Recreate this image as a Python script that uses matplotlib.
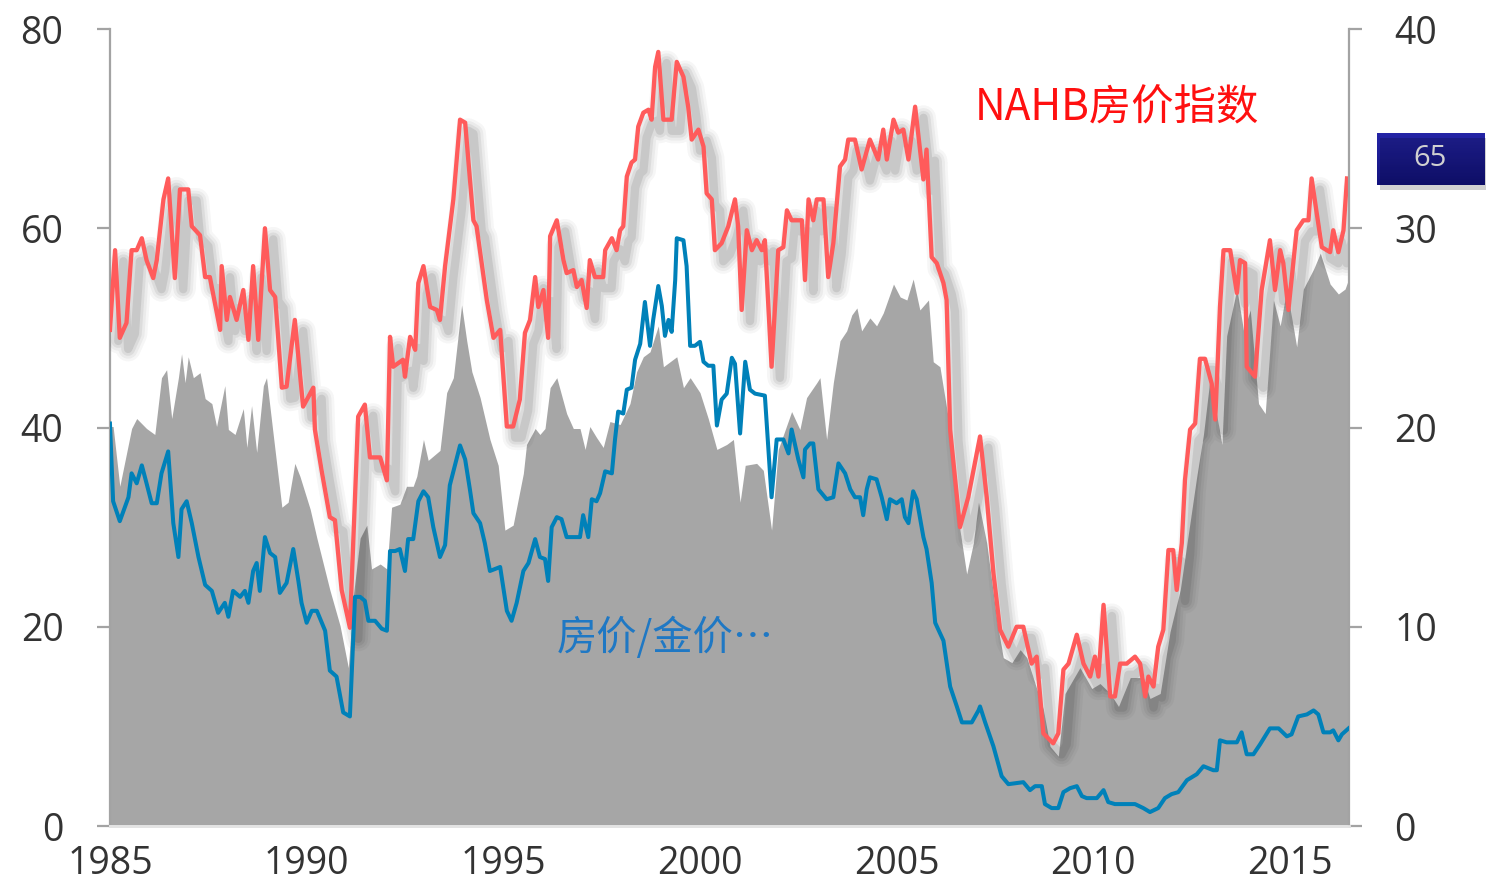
import matplotlib
matplotlib.use("Agg")
import matplotlib.pyplot as plt
import matplotlib.patheffects as pe
from matplotlib.patches import Rectangle
from matplotlib.colors import LinearSegmentedColormap
import numpy as np

# NAHB 房价指数 (左轴)
nahb_year = [
    1985.00, 1985.13, 1985.25, 1985.42, 1985.55, 1985.68, 1985.81, 1985.93, 1986.10, 1986.19,
    1986.36, 1986.48, 1986.65, 1986.78, 1986.99, 1987.08, 1987.29, 1987.42, 1987.54, 1987.80,
    1987.84, 1987.97, 1988.05, 1988.22, 1988.39, 1988.52, 1988.64, 1988.77, 1988.94, 1989.07,
    1989.20, 1989.37, 1989.49, 1989.70, 1989.91, 1990.17, 1990.21, 1990.38, 1990.59, 1990.72,
    1990.89, 1991.10, 1991.31, 1991.48, 1991.61, 1991.87, 1992.04, 1992.12, 1992.20, 1992.45,
    1992.50, 1992.63, 1992.76, 1992.84, 1992.97, 1993.14, 1993.31, 1993.39, 1993.52, 1993.73,
    1993.90, 1994.03, 1994.24, 1994.32, 1994.58, 1994.75, 1994.92, 1995.09, 1995.25, 1995.42,
    1995.55, 1995.68, 1995.81, 1995.89, 1996.02, 1996.14, 1996.19, 1996.36, 1996.53, 1996.61,
    1996.78, 1996.87, 1996.99, 1997.12, 1997.20, 1997.33, 1997.54, 1997.59, 1997.76, 1997.88,
    1997.97, 1998.05, 1998.14, 1998.26, 1998.35, 1998.43, 1998.56, 1998.69, 1998.77, 1998.86,
    1998.94, 1999.07, 1999.28, 1999.41, 1999.58, 1999.70, 1999.79, 1999.96, 2000.09, 2000.17,
    2000.30, 2000.38, 2000.55, 2000.72, 2000.89, 2000.97, 2001.06, 2001.19, 2001.32, 2001.44,
    2001.57, 2001.65, 2001.82, 2001.99, 2002.12, 2002.21, 2002.33, 2002.59, 2002.67, 2002.76,
    2002.88, 2002.97, 2003.14, 2003.26, 2003.39, 2003.56, 2003.69, 2003.77, 2003.94, 2004.11,
    2004.32, 2004.53, 2004.66, 2004.75, 2004.92, 2005.04, 2005.17, 2005.30, 2005.47, 2005.68,
    2005.76, 2005.89, 2006.02, 2006.19, 2006.27, 2006.36, 2006.61, 2006.82, 2007.12, 2007.29,
    2007.46, 2007.63, 2007.84, 2008.05, 2008.22, 2008.43, 2008.56, 2008.73, 2008.98, 2009.11,
    2009.24, 2009.37, 2009.58, 2009.75, 2009.92, 2010.04, 2010.13, 2010.26, 2010.43, 2010.55,
    2010.68, 2010.85, 2011.06, 2011.19, 2011.32, 2011.40, 2011.53, 2011.65, 2011.78, 2011.91,
    2012.03, 2012.12, 2012.25, 2012.33, 2012.46, 2012.59, 2012.71, 2012.84, 2013.01, 2013.10,
    2013.22, 2013.31, 2013.48, 2013.65, 2013.73, 2013.86, 2013.90, 2014.11, 2014.28, 2014.49,
    2014.62, 2014.75, 2014.83, 2014.96, 2015.17, 2015.34, 2015.47, 2015.55, 2015.68, 2015.81,
    2016.02, 2016.10, 2016.23, 2016.36, 2016.45,
]
nahb_val = [
    49.8, 57.8, 49.0, 50.5, 57.8, 57.8, 59.0, 56.8, 55.0, 56.8,
    62.9, 65.0, 55.0, 63.9, 63.9, 60.2, 59.3, 55.1, 55.1, 49.8,
    56.2, 50.8, 53.1, 50.8, 53.8, 48.8, 56.2, 48.8, 60.0, 53.8,
    53.1, 44.0, 44.1, 50.8, 42.1, 44.0, 39.8, 35.7, 31.0, 30.7,
    23.7, 19.9, 41.1, 42.3, 37.0, 37.0, 34.7, 49.1, 46.1, 46.8,
    45.1, 49.1, 47.8, 54.5, 56.2, 52.1, 51.8, 50.8, 56.2, 62.9,
    70.9, 70.6, 60.8, 60.2, 52.8, 49.0, 49.8, 40.1, 40.1, 42.8,
    49.5, 50.8, 55.1, 52.1, 53.8, 49.0, 59.2, 60.8, 56.8, 55.5,
    55.8, 54.1, 54.8, 52.0, 56.8, 55.1, 55.1, 57.8, 59.0, 57.8,
    59.8, 60.2, 65.2, 66.6, 66.9, 70.2, 71.6, 71.9, 70.9, 76.2,
    77.7, 70.9, 70.9, 76.7, 75.2, 72.2, 68.9, 69.9, 68.2, 63.5,
    62.9, 57.8, 58.5, 60.2, 62.9, 60.2, 51.8, 59.8, 57.8, 58.8,
    57.8, 58.8, 46.1, 57.8, 58.1, 61.8, 60.8, 60.8, 54.8, 62.9,
    60.8, 62.9, 62.9, 55.1, 58.5, 66.2, 66.9, 68.9, 68.9, 65.9,
    68.9, 66.9, 69.9, 66.9, 70.9, 69.6, 69.9, 66.9, 72.2, 64.9,
    67.9, 57.1, 56.5, 54.5, 52.8, 39.8, 30.0, 33.0, 39.1, 33.0,
    25.4, 19.7, 18.0, 20.0, 20.0, 16.3, 17.0, 9.3, 8.3, 9.3,
    15.7, 16.3, 19.2, 16.3, 15.0, 17.0, 15.0, 22.2, 13.0, 13.0,
    16.3, 16.3, 17.0, 16.3, 13.0, 15.0, 14.0, 18.0, 19.7, 27.7,
    27.7, 23.7, 28.4, 34.7, 39.8, 40.4, 46.9, 46.9, 44.4, 40.8,
    52.1, 57.8, 57.8, 53.5, 56.8, 56.5, 46.1, 45.1, 53.8, 58.8,
    53.8, 57.8, 56.5, 51.8, 59.8, 60.8, 60.8, 65.0, 61.5, 58.1,
    57.6, 59.8, 57.6, 59.8, 65.0,
]

# 房价/金价 (右轴)
ratio_year = [
    1985.00, 1985.08, 1985.25, 1985.47, 1985.55, 1985.68, 1985.81, 1985.93, 1986.06, 1986.19,
    1986.31, 1986.48, 1986.61, 1986.74, 1986.82, 1986.95, 1987.08, 1987.25, 1987.42, 1987.59,
    1987.75, 1987.92, 1988.01, 1988.13, 1988.31, 1988.43, 1988.52, 1988.64, 1988.73, 1988.81,
    1988.94, 1989.07, 1989.20, 1989.32, 1989.49, 1989.66, 1989.79, 1989.87, 1990.00, 1990.13,
    1990.26, 1990.47, 1990.59, 1990.76, 1990.93, 1991.10, 1991.23, 1991.36, 1991.48, 1991.57,
    1991.74, 1991.91, 1992.04, 1992.12, 1992.25, 1992.37, 1992.50, 1992.58, 1992.71, 1992.84,
    1992.97, 1993.09, 1993.22, 1993.39, 1993.52, 1993.64, 1993.77, 1993.90, 1994.03, 1994.15,
    1994.24, 1994.41, 1994.53, 1994.66, 1994.92, 1995.09, 1995.21, 1995.34, 1995.51, 1995.64,
    1995.81, 1995.93, 1996.06, 1996.14, 1996.23, 1996.36, 1996.48, 1996.61, 1996.95, 1997.03,
    1997.16, 1997.25, 1997.37, 1997.46, 1997.59, 1997.76, 1997.84, 1997.92, 1998.05, 1998.14,
    1998.26, 1998.35, 1998.48, 1998.60, 1998.73, 1998.81, 1998.94, 1999.03, 1999.11, 1999.20,
    1999.28, 1999.37, 1999.41, 1999.58, 1999.66, 1999.75, 1999.87, 2000.00, 2000.09, 2000.21,
    2000.34, 2000.43, 2000.55, 2000.68, 2000.81, 2000.89, 2001.02, 2001.15, 2001.27, 2001.40,
    2001.65, 2001.82, 2001.95, 2002.12, 2002.25, 2002.33, 2002.50, 2002.63, 2002.67, 2002.80,
    2002.88, 2003.01, 2003.22, 2003.39, 2003.52, 2003.69, 2003.82, 2003.94, 2004.07, 2004.15,
    2004.24, 2004.32, 2004.49, 2004.62, 2004.75, 2004.83, 2005.00, 2005.13, 2005.21, 2005.30,
    2005.42, 2005.51, 2005.68, 2005.76, 2005.89, 2005.98, 2006.19, 2006.36, 2006.53, 2006.66,
    2006.91, 2007.08, 2007.12, 2007.25, 2007.46, 2007.67, 2007.84, 2008.22, 2008.39, 2008.52,
    2008.69, 2008.77, 2008.94, 2009.11, 2009.24, 2009.41, 2009.58, 2009.71, 2009.83, 2010.09,
    2010.26, 2010.38, 2010.55, 2010.76, 2011.06, 2011.27, 2011.44, 2011.65, 2011.82, 2011.99,
    2012.16, 2012.38, 2012.63, 2012.80, 2013.05, 2013.14, 2013.22, 2013.39, 2013.65, 2013.77,
    2013.90, 2014.07, 2014.24, 2014.49, 2014.71, 2014.92, 2015.04, 2015.21, 2015.43, 2015.60,
    2015.72, 2015.85, 2016.02, 2016.10, 2016.23, 2016.32, 2016.49,
]
ratio_val = [
    20.2, 16.3, 15.3, 16.5, 17.7, 17.2, 18.1, 17.2, 16.2, 16.2,
    17.7, 18.8, 15.2, 13.5, 15.9, 16.3, 15.2, 13.5, 12.1, 11.8,
    10.7, 11.2, 10.5, 11.8, 11.5, 11.8, 11.2, 12.8, 13.2, 11.8,
    14.5, 13.7, 13.5, 11.7, 12.2, 13.9, 12.3, 11.2, 10.2, 10.8,
    10.8, 9.8, 7.8, 7.5, 5.7, 5.5, 11.5, 11.5, 11.3, 10.3,
    10.3, 9.9, 9.8, 13.8, 13.8, 13.9, 12.8, 14.4, 14.4, 16.3,
    16.8, 16.5, 15.0, 13.5, 14.1, 17.1, 18.1, 19.1, 18.4, 16.9,
    15.7, 15.2, 14.2, 12.8, 13.0, 10.8, 10.3, 11.2, 12.8, 13.2,
    14.4, 13.5, 13.4, 12.3, 15.0, 15.5, 15.4, 14.5, 14.5, 15.6,
    14.5, 16.4, 16.3, 16.7, 17.8, 17.7, 19.4, 20.8, 20.7, 21.9,
    22.0, 23.4, 24.2, 26.3, 24.1, 25.4, 27.1, 26.1, 24.6, 25.4,
    24.8, 27.4, 29.5, 29.4, 28.1, 24.1, 24.1, 24.3, 23.3, 23.1,
    23.1, 20.1, 21.4, 21.7, 23.5, 23.2, 19.7, 23.3, 21.9, 21.7,
    21.6, 16.5, 19.4, 19.4, 18.7, 19.9, 18.4, 17.5, 18.9, 19.2,
    19.2, 16.9, 16.4, 16.5, 18.2, 17.7, 16.9, 16.5, 16.5, 15.6,
    16.9, 17.5, 17.4, 16.5, 15.4, 16.4, 16.2, 16.4, 15.5, 15.2,
    16.8, 16.4, 14.5, 13.9, 12.2, 10.2, 9.3, 7.0, 6.0, 5.2,
    5.2, 5.8, 6.0, 5.2, 4.0, 2.5, 2.1, 2.2, 1.8, 2.0,
    2.0, 1.1, 0.9, 0.9, 1.7, 1.9, 2.0, 1.5, 1.4, 1.4,
    1.8, 1.2, 1.1, 1.1, 1.1, 0.9, 0.7, 0.9, 1.4, 1.6,
    1.7, 2.3, 2.6, 3.0, 2.8, 2.8, 4.3, 4.2, 4.2, 4.7,
    3.6, 3.6, 4.1, 4.9, 4.9, 4.5, 4.6, 5.5, 5.6, 5.8,
    5.6, 4.7, 4.7, 4.8, 4.3, 4.6, 4.9,
]

# 灰色面积 (左轴)
area_year = [
    1985.00, 1985.08, 1985.25, 1985.55, 1985.68, 1985.93, 1986.14, 1986.31, 1986.44, 1986.57,
    1986.74, 1986.82, 1986.91, 1986.99, 1987.12, 1987.29, 1987.42, 1987.59, 1987.71, 1987.92,
    1988.01, 1988.18, 1988.39, 1988.48, 1988.60, 1988.73, 1988.90, 1988.98, 1989.15, 1989.37,
    1989.53, 1989.70, 1989.83, 1990.09, 1990.26, 1990.59, 1990.85, 1991.06, 1991.19, 1991.36,
    1991.53, 1991.65, 1991.87, 1992.04, 1992.16, 1992.37, 1992.54, 1992.71, 1992.80, 1992.97,
    1993.09, 1993.39, 1993.56, 1993.73, 1993.94, 1994.07, 1994.20, 1994.41, 1994.66, 1994.87,
    1995.04, 1995.25, 1995.51, 1995.59, 1995.81, 1995.93, 1996.06, 1996.19, 1996.36, 1996.61,
    1996.78, 1996.95, 1997.08, 1997.20, 1997.37, 1997.54, 1997.71, 1997.97, 1998.22, 1998.39,
    1998.56, 1998.73, 1998.94, 1999.07, 1999.24, 1999.41, 1999.58, 1999.75, 2000.00, 2000.21,
    2000.43, 2000.68, 2000.85, 2001.02, 2001.15, 2001.44, 2001.61, 2001.82, 2001.99, 2002.33,
    2002.54, 2002.71, 2002.97, 2003.05, 2003.22, 2003.39, 2003.56, 2003.73, 2003.86, 2003.99,
    2004.11, 2004.32, 2004.49, 2004.66, 2004.92, 2005.09, 2005.26, 2005.42, 2005.59, 2005.81,
    2005.93, 2006.10, 2006.36, 2006.61, 2006.78, 2006.95, 2007.08, 2007.29, 2007.55, 2007.71,
    2007.93, 2008.14, 2008.31, 2008.52, 2008.73, 2008.90, 2009.11, 2009.28, 2009.66, 2009.96,
    2010.17, 2010.43, 2010.64, 2010.94, 2011.27, 2011.44, 2011.70, 2011.95, 2012.21, 2012.46,
    2012.63, 2012.80, 2012.97, 2013.27, 2013.39, 2013.65, 2013.82, 2013.99, 2014.20, 2014.37,
    2014.58, 2014.75, 2014.92, 2015.17, 2015.34, 2015.60, 2015.77, 2016.02, 2016.23, 2016.40,
    2016.50,
]
area_val = [
    40.1, 40.1, 34.1, 39.9, 40.9, 39.9, 39.3, 45.0, 45.8, 40.9,
    45.0, 47.4, 44.5, 47.1, 45.0, 45.5, 42.9, 42.4, 40.1, 44.2,
    39.8, 39.3, 41.9, 38.0, 42.2, 37.5, 44.2, 45.0, 39.3, 32.0,
    32.5, 36.4, 35.1, 31.8, 28.9, 23.7, 20.1, 15.9, 23.2, 28.9,
    30.2, 25.8, 26.3, 25.8, 32.0, 32.3, 34.1, 34.1, 35.1, 38.8,
    36.7, 37.7, 43.5, 45.0, 52.3, 48.7, 45.6, 43.0, 38.8, 36.2,
    29.7, 30.2, 35.4, 38.3, 39.9, 39.3, 39.9, 44.0, 45.0, 41.4,
    39.9, 39.9, 37.8, 40.1, 39.0, 38.0, 40.6, 40.3, 42.4, 45.6,
    47.1, 47.6, 50.2, 46.1, 46.6, 47.1, 44.0, 45.0, 43.5, 40.9,
    37.8, 38.3, 38.8, 32.5, 36.2, 36.4, 35.7, 29.7, 37.8, 41.6,
    39.8, 43.0, 44.5, 45.0, 38.8, 44.5, 48.7, 49.7, 51.3, 52.0,
    49.7, 51.0, 50.2, 51.5, 54.4, 53.1, 52.8, 54.9, 51.8, 52.8,
    46.6, 46.1, 39.8, 29.7, 25.3, 28.4, 32.5, 28.4, 20.6, 16.9,
    16.4, 17.7, 16.9, 14.3, 11.7, 8.0, 7.0, 13.3, 15.9, 13.8,
    14.3, 13.3, 12.0, 14.9, 14.9, 12.8, 13.3, 19.5, 23.7, 30.5,
    35.1, 39.3, 45.0, 38.3, 49.2, 53.9, 49.7, 51.8, 42.4, 41.4,
    52.8, 50.2, 53.9, 48.1, 53.9, 55.9, 57.5, 54.4, 53.4, 53.9,
    55.0,
]

x_ticks = [1985, 1990, 1995, 2000, 2005, 2010, 2015]
left_ticks = [0, 20, 40, 60, 80]
right_ticks = [0, 10, 20, 30, 40]
last_label = "65"

RED = "#FF5B5B"
BLUE = "#0081B9"
GREY = "#A6A6A6"
SPINE = "#A3A3A3"
TXT = "#333333"
NUM_FONT = ["Open Sans", "DejaVu Sans"]
CJK_FONT = ["Noto Sans CJK SC", "DejaVu Sans"]

fig = plt.figure(figsize=(14.86, 8.90), dpi=100)
ax = fig.add_axes([0.0740, 0.0719, 0.8338, 0.8955])
ax2 = ax.twinx()

# 灰色面积
ax.fill_between(area_year, area_val, 0, color=GREY, linewidth=0, zorder=1)

# 红线 + 模糊阴影
shadow = []
for lw, a in [(18, 0.04), (14, 0.05), (10, 0.07), (6, 0.10)]:
    shadow.append(pe.SimpleLineShadow(offset=(6, -8), shadow_color="#202020",
                                      alpha=a, linewidth=lw, joinstyle="round",
                                      capstyle="round"))
shadow.append(pe.Normal())
ax.plot(nahb_year, nahb_val, color=RED, lw=3.1, zorder=3,
        solid_joinstyle="round", path_effects=shadow)

# 蓝线
ax2.plot(ratio_year, ratio_val, color=BLUE, lw=2.9, zorder=3, solid_joinstyle="round")

ax.set_xlim(1985, 2016.5)
ax.set_ylim(0, 80)
ax2.set_ylim(0, 40)

ax.set_xticks(x_ticks)
ax.set_xticklabels([str(t) for t in x_ticks])
ax.set_yticks(left_ticks)
ax2.set_yticks(right_ticks)

for a in (ax, ax2):
    a.spines["top"].set_visible(False)
    a.spines["bottom"].set_color("#E3E3E3")
    a.spines["bottom"].set_linewidth(2)
    for s in ("left", "right"):
        a.spines[s].set_color(SPINE)
        a.spines[s].set_linewidth(1.6)
ax.spines["right"].set_visible(False)
ax2.spines["left"].set_visible(False)

ax.tick_params(axis="y", direction="out", length=9.5, width=1.6, color=SPINE,
               pad=24, labelsize=27, labelcolor=TXT)
ax2.tick_params(axis="y", direction="out", length=9.5, width=1.6, color=SPINE,
                pad=23, labelsize=27, labelcolor=TXT)
ax.tick_params(axis="x", length=0, pad=14, labelsize=27, labelcolor=TXT)
for lab in ax.get_xticklabels() + ax.get_yticklabels() + ax2.get_yticklabels():
    lab.set_family(NUM_FONT)

# 标注
fig.text(975 / 1486, 1 - 108 / 890, "NAHB房价指数", color="#FF1010",
         fontsize=30.5, family=CJK_FONT, ha="left", va="center")
fig.text(557 / 1486, 1 - 638 / 890, "房价/金价…", color="#1F78C4",
         fontsize=29, family=CJK_FONT, ha="left", va="center")

# 右侧数值标签
bx, by, bw, bh = 1377 / 1486, 1 - 185 / 890, 107 / 1486, 52 / 890
fig.patches.append(Rectangle((bx + 0.002, by - 0.006), bw, bh, transform=fig.transFigure,
                             facecolor="#000000", alpha=0.18, edgecolor="none", zorder=5))
bax = fig.add_axes([bx, by, bw, bh])
grad = np.linspace(0, 1, 50).reshape(-1, 1)
cmap = LinearSegmentedColormap.from_list("navy", ["#2424A6", "#12127E"])
bax.imshow(grad, aspect="auto", cmap=cmap, extent=[0, 1, 0, 1], origin="upper")
bax.set_axis_off()
bax.text(0.5, 0.5, last_label, color="white", fontsize=21, family=NUM_FONT,
         ha="center", va="center", transform=bax.transAxes)

fig.savefig("out.png", dpi=100)
